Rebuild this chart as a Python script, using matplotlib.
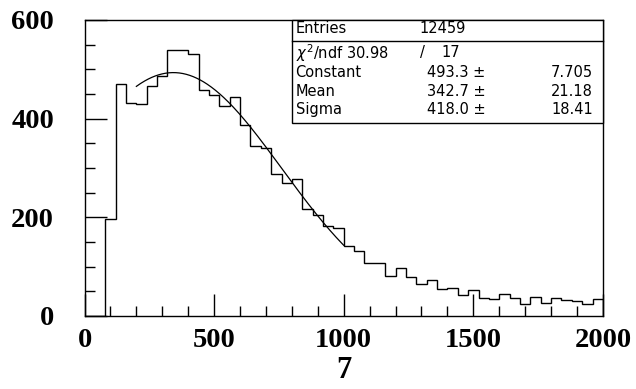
import numpy as np
import matplotlib
matplotlib.use("Agg")
import matplotlib.pyplot as plt
from matplotlib.patches import Rectangle
from matplotlib.ticker import MultipleLocator

# histogram contents, 50 bins of width 40 from 0 to 2000
bin_edges = np.linspace(0, 2000, 51)
counts = [0, 0, 197, 471, 431, 430, 467, 486, 540, 540,
          532, 458, 448, 426, 443, 387, 345, 340, 287, 269,
          277, 216, 205, 183, 178, 142, 132, 107, 107, 82,
          97, 80, 65, 72, 54, 57, 43, 52, 37, 35,
          45, 36, 25, 38, 27, 36, 33, 30, 25, 34]

# gaussian fit results
fit_const = 493.3
fit_mean = 342.7
fit_sigma = 418.0
fit_range = (200, 1000)

stats_rows = [
    ("Constant", "493.3 \u00b1", "7.705"),
    ("Mean", "342.7 \u00b1", "21.18"),
    ("Sigma", "418.0 \u00b1", "18.41"),
]
entries = "12459"
chi2 = "30.98"
ndf = "17"

fig = plt.figure(figsize=(6.36, 3.89), dpi=100)
ax = fig.add_axes([0.1329, 0.1877, 0.8151, 0.761])

# histogram outline
ax.stairs(counts, bin_edges, color="black", linewidth=1.0, baseline=0)

# fit curve
xf = np.linspace(fit_range[0], fit_range[1], 300)
yf = fit_const * np.exp(-0.5 * ((xf - fit_mean) / fit_sigma) ** 2)
ax.plot(xf, yf, color="black", linewidth=0.9)

ax.set_xlim(0, 2000)
ax.set_ylim(0, 600)

# axes styling, ROOT look
for s in ax.spines.values():
    s.set_linewidth(1.0)
ax.xaxis.set_major_locator(MultipleLocator(500))
ax.xaxis.set_minor_locator(MultipleLocator(100))
ax.yaxis.set_major_locator(MultipleLocator(200))
ax.yaxis.set_minor_locator(MultipleLocator(50))
ax.tick_params(which="both", direction="in", top=False, right=False, width=1.0)
ax.tick_params(which="major", length=15.5)
ax.tick_params(which="minor", length=7.5)
ax.tick_params(axis="x", which="major", pad=9)
ax.tick_params(axis="y", which="major", pad=22)

tick_font = dict(family="Liberation Serif", weight="bold", size=20.5)
for lab in ax.get_xticklabels() + ax.get_yticklabels():
    lab.set_fontfamily(tick_font["family"])
    lab.set_fontweight(tick_font["weight"])
    lab.set_fontsize(tick_font["size"])

ax.set_xlabel("7", family="Liberation Serif", weight="bold", fontsize=22, labelpad=2)

# stats box
box_x0, box_y0 = 0.400, 0.651
ax.add_patch(Rectangle((box_x0, box_y0), 1 - box_x0, 1 - box_y0,
                       transform=ax.transAxes, facecolor="white",
                       edgecolor="black", linewidth=1.0, zorder=5, clip_on=False))
ax.plot([box_x0, 1.0], [0.930, 0.930], transform=ax.transAxes,
        color="black", linewidth=1.0, zorder=6, clip_on=False)

txt = dict(transform=ax.transAxes, fontsize=10.5, family="DejaVu Sans",
           va="center", zorder=7)
ax.text(0.407, 0.9706, "Entries", ha="left", **txt)
ax.text(0.647, 0.9706, entries, ha="left", **txt)
ax.text(0.407, 0.8895, r"$\chi^2$/ndf " + chi2, ha="left", **txt)
ax.text(0.647, 0.8895, "/", ha="left", **txt)
ax.text(0.724, 0.8895, ndf, ha="right", **txt)
row_y = [0.8233, 0.7578, 0.696]
for (name, val, err), y in zip(stats_rows, row_y):
    ax.text(0.407, y, name, ha="left", **txt)
    ax.text(0.660, y, val, ha="left", **txt)
    ax.text(0.981, y, err, ha="right", **txt)

fig.savefig("out.png", dpi=100)
